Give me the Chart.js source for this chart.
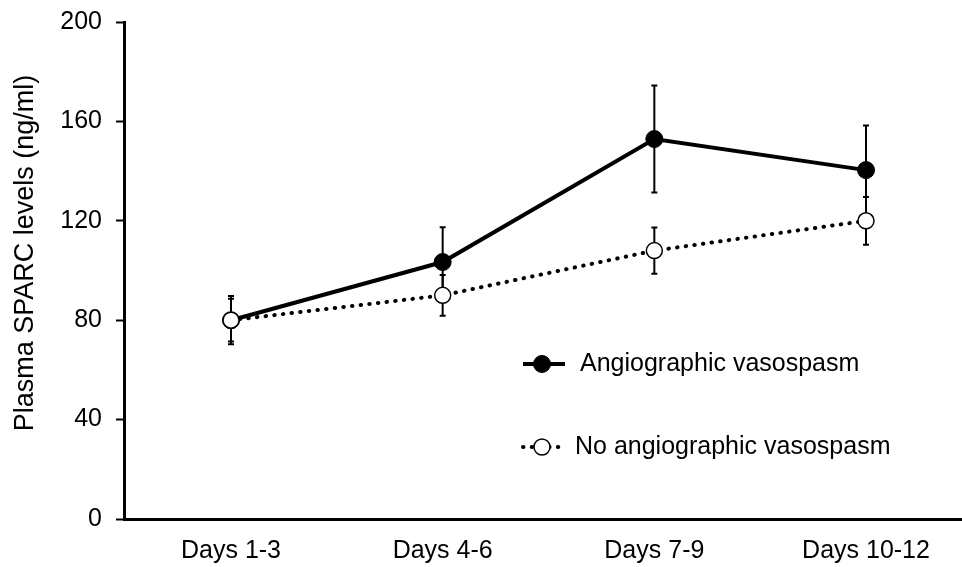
<!DOCTYPE html>
<html>
<head>
<meta charset="utf-8">
<script src="https://cdn.jsdelivr.net/npm/chart.js@4.4.0/dist/chart.umd.min.js"></script>
<style>
  body { margin: 0; background: #fff; }
  #wrap { width: 962px; height: 567px; }
</style>
</head>
<body>
<div id="wrap"><canvas id="chart" width="962" height="567"></canvas></div>
<script>
// données
const jours = ['Days 1-3', 'Days 4-6', 'Days 7-9', 'Days 10-12'];
const positions = [1, 2, 3, 4];
const vasospasme = [80, 103.4, 152.9, 140.4];
const vasospasmeErr = [9.7, 14, 21.5, 18];
const sansVasospasme = [80, 90, 108, 120];
const sansVasospasmeErr = [8.6, 8.2, 9.3, 9.6];
const graduationsY = [0, 40, 80, 120, 160, 200];
const titreY = 'Plasma SPARC levels (ng/ml)';

const police = '"Liberation Sans", Arial, sans-serif';

// barres d'erreur dessinees sous les points
const barresErreur = {
    id: 'barresErreur',
    beforeDatasetsDraw(chart) {
        const ctx = chart.ctx;
        const y = chart.scales.y;
        chart.data.datasets.forEach((ds, i) => {
            const meta = chart.getDatasetMeta(i);
            ctx.save();
            ctx.strokeStyle = '#000';
            ctx.lineWidth = 2;
            meta.data.forEach((pt, j) => {
                const v = ds.data[j].y;
                const e = ds.erreurs[j];
                const haut = y.getPixelForValue(v + e);
                const bas = y.getPixelForValue(v - e);
                ctx.beginPath();
                ctx.moveTo(pt.x, haut);
                ctx.lineTo(pt.x, bas);
                ctx.moveTo(pt.x - 3, haut);
                ctx.lineTo(pt.x + 3, haut);
                ctx.moveTo(pt.x - 3, bas);
                ctx.lineTo(pt.x + 3, bas);
                ctx.stroke();
            });
            ctx.restore();
        });
    }
};

// titre de l'axe Y et legende dans la zone du graphique
const legende = {
    id: 'legende',
    afterDraw(chart) {
        const ctx = chart.ctx;
        ctx.save();
        ctx.fillStyle = '#000';
        ctx.font = '27px ' + police;
        ctx.textAlign = 'center';
        ctx.textBaseline = 'middle';
        ctx.translate(26, 253);
        ctx.rotate(-Math.PI / 2);
        ctx.fillText(titreY, 0, 0);
        ctx.restore();

        const entrees = [
            { ds: chart.data.datasets[0], x: 523, y: 364, tx: 580 },
            { ds: chart.data.datasets[1], x: 523, y: 447, tx: 575 }
        ];
        ctx.save();
        entrees.forEach(en => {
            const ds = en.ds;
            ctx.strokeStyle = '#000';
            ctx.lineWidth = ds.borderWidth;
            ctx.lineCap = ds.borderCapStyle || 'butt';
            ctx.setLineDash(ds.borderDash || []);
            ctx.beginPath();
            ctx.moveTo(en.x, en.y);
            ctx.lineTo(en.x + 42, en.y);
            ctx.stroke();
            ctx.setLineDash([]);
            ctx.beginPath();
            ctx.arc(en.x + 19, en.y, ds.pointRadius, 0, Math.PI * 2);
            ctx.fillStyle = ds.pointBackgroundColor;
            ctx.fill();
            ctx.lineWidth = ds.pointBorderWidth;
            ctx.stroke();
            ctx.fillStyle = '#000';
            ctx.font = '25px ' + police;
            ctx.textBaseline = 'middle';
            ctx.fillText(ds.label, en.tx, en.y);
        });
        ctx.restore();
    }
};

const ctx = document.getElementById('chart').getContext('2d');
const chart = new Chart(ctx, {
    type: 'line',
    data: {
        datasets: [{
            label: 'Angiographic vasospasm',
            data: positions.map((x, i) => ({ x, y: vasospasme[i] })),
            erreurs: vasospasmeErr,
            borderColor: '#000',
            borderWidth: 4,
            pointRadius: 8.5,
            pointBackgroundColor: '#000',
            pointBorderColor: '#000',
            pointBorderWidth: 1,
            order: 1
        }, {
            label: 'No angiographic vasospasm',
            data: positions.map((x, i) => ({ x, y: sansVasospasme[i] })),
            erreurs: sansVasospasmeErr,
            borderColor: '#000',
            borderWidth: 4,
            borderDash: [0.5, 8.2],
            borderCapStyle: 'round',
            pointRadius: 8,
            pointBackgroundColor: '#fff',
            pointBorderColor: '#000',
            pointBorderWidth: 1.5,
            order: 0
        }]
    },
    options: {
        responsive: false,
        animation: false,
        devicePixelRatio: 1,
        layout: { autoPadding: false, padding: { top: 22, right: 0, bottom: 0, left: 0 } },
        plugins: {
            legend: { display: false },
            tooltip: { enabled: false }
        },
        scales: {
            x: {
                type: 'linear',
                min: 0.4945,
                max: 4.4535,
                afterBuildTicks: s => { s.ticks = positions.map(v => ({ value: v })); },
                afterFit: s => { s.height = 48; s.paddingLeft = 0; s.paddingRight = 0; },
                grid: { display: false, drawTicks: false },
                border: { display: true, color: '#000', width: 3 },
                ticks: {
                    color: '#000',
                    padding: 17,
                    font: { family: police, size: 25 },
                    callback: v => jours[v - 1]
                }
            },
            y: {
                min: 0,
                max: 200,
                afterBuildTicks: s => { s.ticks = graduationsY.map(v => ({ value: v })); },
                afterFit: s => { s.width = 124; s.paddingTop = 0; s.paddingBottom = 0; },
                grid: {
                    display: true,
                    drawOnChartArea: false,
                    drawTicks: true,
                    tickLength: 8,
                    tickWidth: 2,
                    tickColor: '#000'
                },
                border: { display: true, color: '#000', width: 3 },
                ticks: {
                    color: '#000',
                    padding: 14,
                    font: { family: police, size: 25 }
                }
            }
        }
    },
    plugins: [barresErreur, legende]
});
</script>
</body>
</html>
